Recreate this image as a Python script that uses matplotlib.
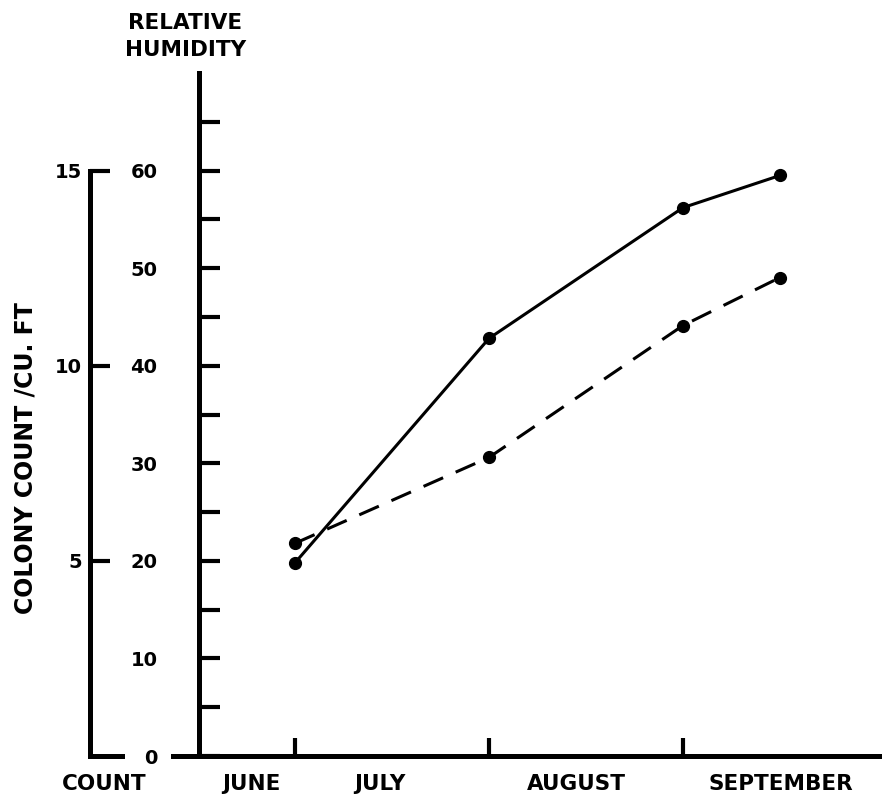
import matplotlib
matplotlib.use('Agg')
import matplotlib.pyplot as plt
import numpy as np

# readings taken at the end of each month, the last one mid-September
months_x = [1.0, 2.0, 3.0, 3.5]
humidity = [19.8, 42.8, 56.2, 59.5]        # relative humidity, %  (solid)
colony_count = [5.45, 7.65, 11.03, 12.26]  # colonies / cu. ft   (dashed)

month_names = ['JUNE', 'JULY', 'AUGUST', 'SEPTEMBER']
month_label_x = [0.773, 1.438, 2.448, 3.505]

rh_major = np.arange(0, 61, 10)
rh_minor = np.arange(5, 71, 10)
count_ticks = [5, 10, 15]

plt.rcParams['font.family'] = ['DejaVu Sans']
plt.rcParams['font.weight'] = 'bold'

W, H = 882, 797
fig = plt.figure(figsize=(W / 100, H / 100), dpi=100, facecolor='white')

axis_lw = 3.6
tick_w = 3.0
num_fs = 14
lab_fs = 15.5

# main axes: relative humidity on the inner axis
ax = fig.add_axes([173 / W, 1 - 756 / H, 1 - 173 / W, (756 - 73) / H])
ax.set_xlim(0.371, 4.026)
ax.set_ylim(0, 70)
for s in ['top', 'right']:
    ax.spines[s].set_visible(False)
ax.spines['left'].set_position(('data', 0.505))
ax.spines['left'].set_linewidth(axis_lw)
ax.spines['bottom'].set_linewidth(axis_lw)
ax.spines['left'].set_capstyle('projecting')
ax.spines['bottom'].set_capstyle('projecting')

ax.set_yticks(rh_major)
ax.set_yticks(rh_minor, minor=True)
ax.set_yticklabels([str(v) for v in rh_major], fontsize=num_fs, fontweight='bold')
ax.tick_params(axis='y', which='both', direction='in', length=15, width=tick_w, pad=30)
ax.set_xticks([1, 2, 3])
ax.set_xticklabels([])
ax.tick_params(axis='x', direction='in', length=13, width=tick_w)

ax.plot(months_x, humidity, color='black', lw=2.2, marker='o', ms=8.5, clip_on=False)

# colony count shares the picture on its own scale (15 counts = 60 % RH)
axc = ax.twinx()
axc.set_ylim(0, 17.5)
for s in axc.spines.values():
    s.set_visible(False)
axc.set_yticks([])
axc.plot(months_x, colony_count, color='black', lw=2.2, dashes=(7, 4.5),
         marker='o', ms=8.5, clip_on=False)

# outer colony count axis
axo = fig.add_axes([90 / W, 1 - 756 / H, 32 / W, (756 - 73) / H])
axo.set_ylim(0, 17.5)
axo.set_xlim(0, 1)
for s in ['top', 'right']:
    axo.spines[s].set_visible(False)
axo.spines['left'].set_bounds(0, 15)
axo.spines['left'].set_linewidth(axis_lw)
axo.spines['bottom'].set_linewidth(axis_lw)
axo.spines['left'].set_capstyle('projecting')
axo.spines['bottom'].set_capstyle('projecting')
axo.set_xticks([])
axo.set_yticks(count_ticks)
axo.set_yticklabels([str(v) for v in count_ticks], fontsize=num_fs, fontweight='bold')
axo.tick_params(axis='y', direction='in', length=14.4, width=tick_w, pad=6)
axo.patch.set_alpha(0)

# month labels under the time axis
for name, xm in zip(month_names, month_label_x):
    ax.text(xm, -3.5, name, ha='center', va='baseline', fontsize=lab_fs, fontweight='bold')
ax.text(0.015, -3.5, 'COUNT', ha='center', va='baseline', fontsize=lab_fs, fontweight='bold')

ax.text(0.435, 74.5, 'RELATIVE', ha='center', va='baseline', fontsize=lab_fs, fontweight='bold')
ax.text(0.435, 71.7, 'HUMIDITY', ha='center', va='baseline', fontsize=lab_fs, fontweight='bold')

fig.text(26 / W, 1 - 458 / H, 'COLONY COUNT /CU. FT', rotation=90, ha='center',
         va='center', fontsize=17, fontweight='bold')

fig.savefig('out.png', dpi=100, facecolor='white')
